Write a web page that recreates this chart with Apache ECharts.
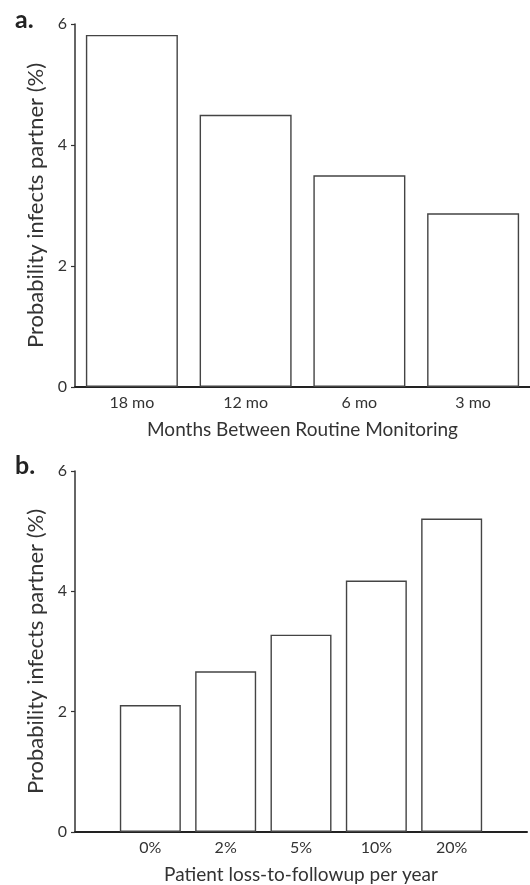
<!DOCTYPE html>
<html>
<head>
<meta charset="utf-8">
<script src="https://cdn.jsdelivr.net/npm/echarts@6/dist/echarts.min.js"></script>
<style>
html,body{margin:0;padding:0;background:#fff;}
#c{width:530px;height:885px;}
</style>
</head>
<body>
<div id="c"></div>
<script>
// Panel a
const catsA = ['18 mo', '12 mo', '6 mo', '3 mo'];
const valsA = [5.82, 4.5, 3.5, 2.87];
// Panel b (leading and trailing blank slots on the axis)
const catsB = ['', '0%', '2%', '5%', '10%', '20%', ''];
const valsB = [null, 2.11, 2.67, 3.28, 4.18, 5.21, null];
const yTicks = [0, 2, 4, 6];

const FONT = 'Lato';
const ink = '#333';
const chart = echarts.init(document.getElementById('c'));

function yAxis(gi) {
  return {
    type: 'value', gridIndex: gi, min: yTicks[0], max: yTicks[yTicks.length - 1], interval: 2,
    name: 'Probability infects partner (%)', nameLocation: 'middle', nameGap: 25,
    nameTextStyle: { fontFamily: FONT, fontSize: 22, color: ink },
    axisLine: { show: true, lineStyle: { color: ink, width: 1.5 } },
    axisTick: { show: true, length: 4, inside: false, lineStyle: { color: ink, width: 1.2 } },
    axisLabel: { margin: 8, fontFamily: FONT, fontSize: 16, color: ink },
    splitLine: { show: false }
  };
}
const barStyle = { color: '#fff', borderColor: '#444', borderWidth: 1.4 };

chart.setOption({
  animation: false,
  backgroundColor: '#fff',
  title: [
    { text: 'a.', left: 10, top: 2, textStyle: { fontFamily: FONT, fontWeight: 'bold', fontSize: 25, color: '#222' } },
    { text: 'b.', left: 10, top: 448, textStyle: { fontFamily: FONT, fontWeight: 'bold', fontSize: 25, color: '#222' } }
  ],
  grid: [
    { left: 75, right: -5, top: 24, bottom: 498 },
    { left: 75, right: -1, top: 471, bottom: 52 }
  ],
  xAxis: [
    {
      type: 'category', gridIndex: 0, data: catsA,
      name: 'Months Between Routine Monitoring', nameLocation: 'middle', nameGap: 33,
      nameTextStyle: { fontFamily: FONT, fontSize: 19, color: ink, verticalAlign: 'top' },
      axisLine: { lineStyle: { color: '#222', width: 2 } },
      axisTick: { show: false },
      axisLabel: { margin: 8, fontFamily: FONT, fontSize: 16, color: ink }
    },
    {
      type: 'category', gridIndex: 1, data: catsB, boundaryGap: false,
      name: 'Patient loss-to-followup per year', nameLocation: 'middle', nameGap: 33,
      nameTextStyle: { fontFamily: FONT, fontSize: 19, color: ink, verticalAlign: 'top' },
      axisLine: { lineStyle: { color: '#222', width: 2 } },
      axisTick: { show: false },
      axisLabel: { margin: 8, fontFamily: FONT, fontSize: 16, color: ink, interval: 0 }
    }
  ],
  yAxis: [yAxis(0), yAxis(1)],
  series: [
    { type: 'bar', xAxisIndex: 0, yAxisIndex: 0, data: valsA, barWidth: 92, itemStyle: barStyle },
    { type: 'bar', xAxisIndex: 1, yAxisIndex: 1, data: valsB, barWidth: 61, itemStyle: barStyle }
  ]
});
</script>
</body>
</html>
